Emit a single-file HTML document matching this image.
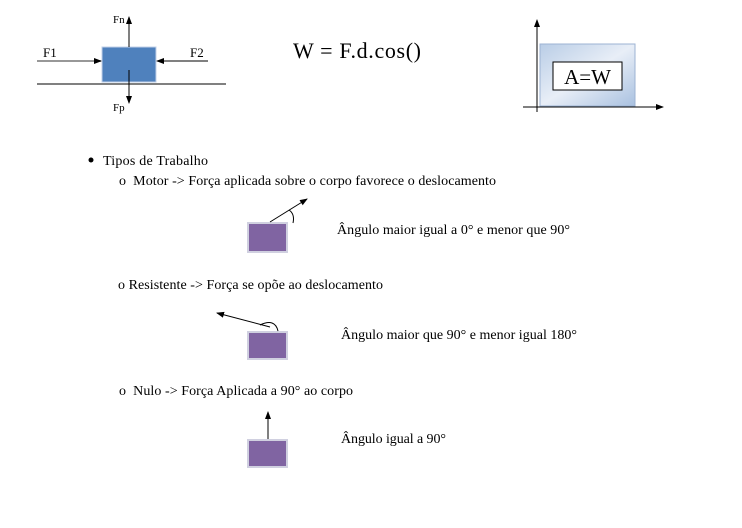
<!DOCTYPE html>
<html><head><meta charset="utf-8"><style>
body{margin:0;background:#fff;width:742px;height:528px;overflow:hidden}
svg{display:block;font-family:"Liberation Serif",serif}
</style></head><body>
<svg width="742" height="528" viewBox="0 0 742 528">
<defs>
<marker id="ah" markerWidth="8" markerHeight="8" refX="7" refY="4" orient="auto" markerUnits="userSpaceOnUse"><path d="M0,1 L8,4 L0,7 Z" fill="#000"/></marker>
<linearGradient id="g" x1="0" y1="0" x2="1" y2="1"><stop offset="0" stop-color="#b9cde6"/><stop offset="0.5" stop-color="#e8eef7"/><stop offset="1" stop-color="#a9c1e0"/></linearGradient>
</defs>
<g>
<line x1="37" y1="84" x2="226" y2="84" stroke="#000"/>
<rect x="102" y="47" width="54" height="35" fill="#4f81bd" stroke="#c0d0e8"/>
<line x1="37" y1="61" x2="101" y2="61" stroke="#777" stroke-width="1.5" marker-end="url(#ah)"/>
<line x1="208" y1="61" x2="157" y2="61" stroke="#000" marker-end="url(#ah)"/>
<line x1="129" y1="47" x2="129" y2="17" stroke="#000" marker-end="url(#ah)"/>
<line x1="129" y1="70" x2="129" y2="103" stroke="#000" marker-end="url(#ah)"/>
<text x="43" y="57" font-size="13">F1</text>
<text x="190" y="57" font-size="13">F2</text>
<text x="113" y="23" font-size="11">Fn</text>
<text x="113" y="111" font-size="11">Fp</text>
</g>
<text x="293" y="58" font-size="22" textLength="128">W = F.d.cos()</text>
<g>
<rect x="540" y="44" width="95" height="62" fill="url(#g)" stroke="#9db3d3"/>
<rect x="553" y="62" width="69" height="28" fill="#fff" stroke="#000"/>
<text x="587.5" y="84" font-size="21" text-anchor="middle">A=W</text>
<line x1="537" y1="112" x2="537" y2="20" stroke="#000" marker-end="url(#ah)"/>
<line x1="523" y1="107" x2="663" y2="107" stroke="#000" marker-end="url(#ah)"/>
</g>
<g font-size="14">
<circle cx="91" cy="160" r="2.5" fill="#000"/>
<text x="103" y="165" textLength="105">Tipos de Trabalho</text>
<text x="119" y="185" textLength="377">o&#160;&#160;Motor -&gt; Força aplicada sobre o corpo favorece o deslocamento</text>
<rect x="248" y="223" width="39" height="29" fill="#8064a2" stroke="#d0d0e0" stroke-width="2"/>
<line x1="270" y1="222" x2="307" y2="199" stroke="#000" marker-end="url(#ah)"/>
<path d="M289,210 Q295,214 293,223" fill="none" stroke="#000"/>
<text x="337" y="234" textLength="233">Ângulo maior igual a 0° e menor que 90°</text>
<text x="118" y="289" textLength="265">o Resistente -&gt; Força se opõe ao deslocamento</text>
<rect x="248" y="332" width="39" height="27" fill="#8064a2" stroke="#d0d0e0" stroke-width="2"/>
<line x1="270" y1="327" x2="217" y2="313" stroke="#000" marker-end="url(#ah)"/>
<path d="M260,325 Q275,318 278,331" fill="none" stroke="#000"/>
<text x="341" y="339" textLength="236">Ângulo maior que 90° e menor igual 180°</text>
<text x="119" y="395" textLength="234">o&#160;&#160;Nulo -&gt; Força Aplicada a 90° ao corpo</text>
<rect x="248" y="440" width="39" height="27" fill="#8064a2" stroke="#d0d0e0" stroke-width="2"/>
<line x1="268" y1="439" x2="268" y2="412" stroke="#000" marker-end="url(#ah)"/>
<text x="341" y="443" textLength="105">Ângulo igual a 90°</text>
</g>
</svg>
</body></html>
